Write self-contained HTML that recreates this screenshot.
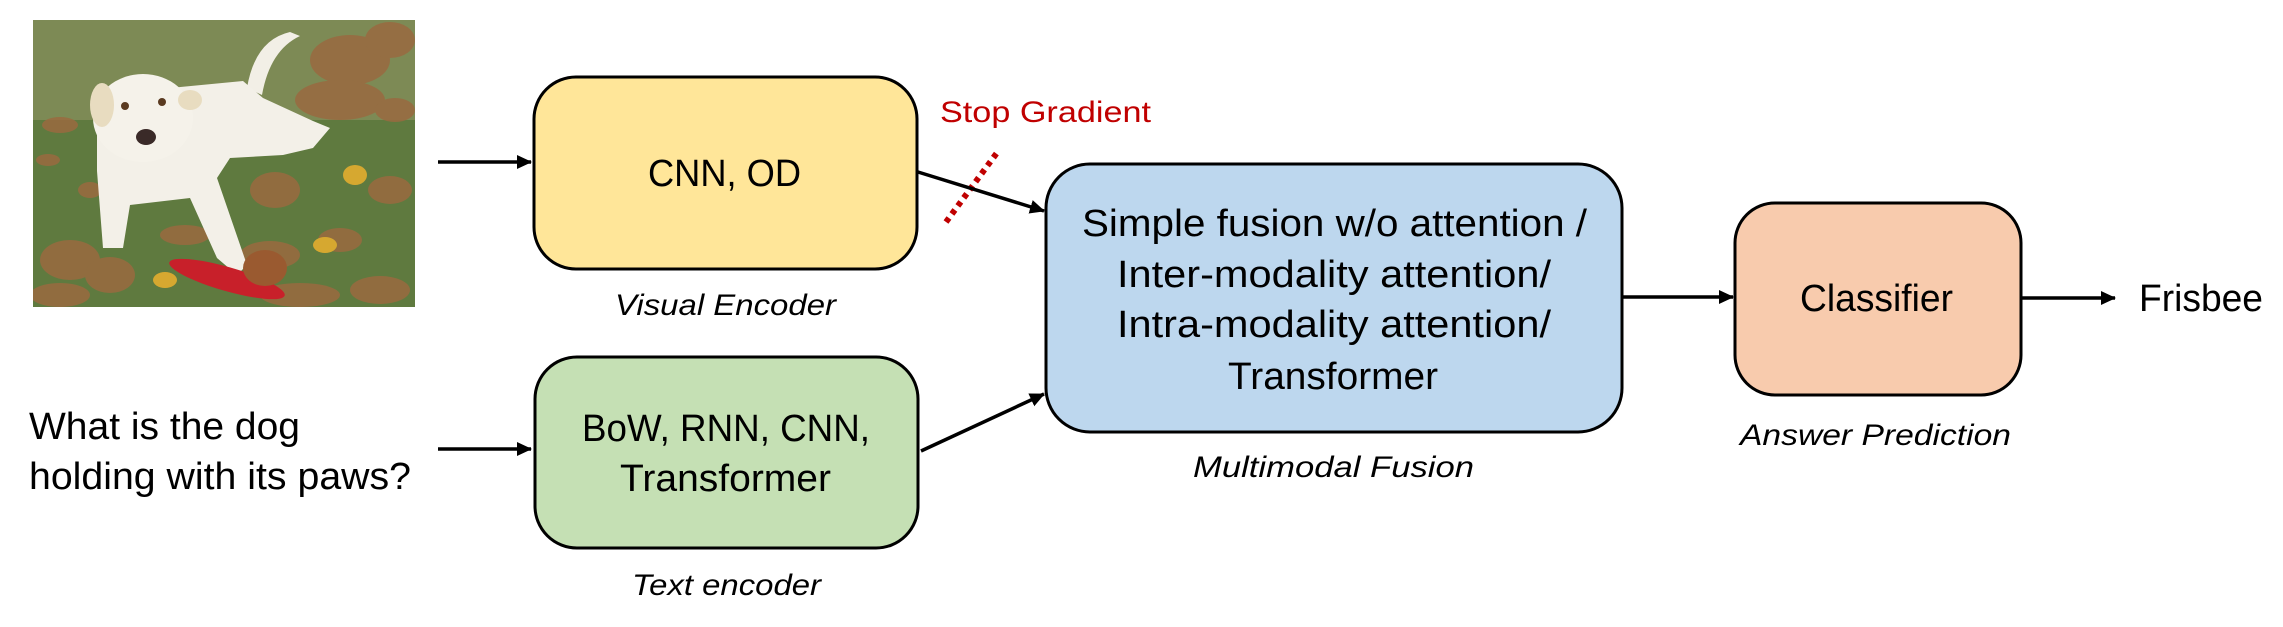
<!DOCTYPE html>
<html><head><meta charset="utf-8"><style>
html,body{margin:0;padding:0;background:#fff}
svg{display:block}
text{font-family:"Liberation Sans",sans-serif;fill:#000}
.it{font-style:italic}
</style></head><body>
<svg width="2283" height="627" viewBox="0 0 2283 627" xmlns="http://www.w3.org/2000/svg">
<defs>
<marker id="ah2" markerWidth="16" markerHeight="16" refX="14" refY="8" orient="auto" markerUnits="userSpaceOnUse">
<path d="M0,1 L15,8 L0,15 z" fill="#000"/>
</marker>
<clipPath id="pc"><rect x="33" y="20" width="382" height="287"/></clipPath>
</defs>

<g clip-path="url(#pc)">
<rect x="33" y="20" width="382" height="287" fill="#5f7a3f"/>
<rect x="33" y="20" width="382" height="100" fill="#7d8a55"/>
<g fill="#9a6a40" opacity="0.85">
<ellipse cx="60" cy="125" rx="18" ry="8"/><ellipse cx="48" cy="160" rx="12" ry="6"/>
<ellipse cx="350" cy="60" rx="40" ry="25"/><ellipse cx="390" cy="40" rx="25" ry="18"/>
<ellipse cx="340" cy="100" rx="45" ry="20"/><ellipse cx="395" cy="110" rx="20" ry="12"/>
<ellipse cx="275" cy="190" rx="25" ry="18"/><ellipse cx="390" cy="190" rx="22" ry="14"/>
<ellipse cx="70" cy="260" rx="30" ry="20"/><ellipse cx="110" cy="275" rx="25" ry="18"/>
<ellipse cx="185" cy="235" rx="25" ry="10"/><ellipse cx="270" cy="255" rx="30" ry="14"/>
<ellipse cx="340" cy="240" rx="22" ry="12"/><ellipse cx="60" cy="295" rx="30" ry="12"/>
<ellipse cx="300" cy="295" rx="40" ry="12"/><ellipse cx="380" cy="290" rx="30" ry="14"/>
<ellipse cx="90" cy="190" rx="12" ry="8"/>
</g>
<g fill="#d6a830"><ellipse cx="355" cy="175" rx="12" ry="10"/><ellipse cx="325" cy="245" rx="12" ry="8"/><ellipse cx="165" cy="280" rx="12" ry="8"/></g>
<path d="M247,88 Q255,40 290,32 L300,36 Q270,50 262,95 z" fill="#f2efe6"/>
<path d="M170,88 L243,81 L263,98 L313,121 L330,128 L313,148 L283,155 L230,158 L217,178 L247,265 L237,275 L217,258 L190,198 L130,205 L123,248 L103,248 L97,171 L97,135 z" fill="#f3f0e8"/>
<ellipse cx="143" cy="118" rx="50" ry="44" fill="#f5f2ea"/>
<ellipse cx="102" cy="105" rx="12" ry="22" fill="#e8dcc0"/>
<ellipse cx="190" cy="100" rx="12" ry="10" fill="#e8dcc0"/>
<circle cx="125" cy="106" r="4" fill="#5a3a20"/><circle cx="162" cy="102" r="4" fill="#5a3a20"/>
<ellipse cx="146" cy="137" rx="10" ry="8" fill="#3a2a28"/>
<ellipse cx="227" cy="279" rx="60" ry="12" transform="rotate(16 227 279)" fill="#c8202a"/>
<ellipse cx="265" cy="268" rx="22" ry="18" fill="#9a5a30"/>
</g>

<line x1="438" y1="162" x2="531" y2="162" stroke="#000" stroke-width="3.5" marker-end="url(#ah2)"/>
<line x1="438" y1="449" x2="531" y2="449" stroke="#000" stroke-width="3.5" marker-end="url(#ah2)"/>

<text x="29" y="439" font-size="38" textLength="271" lengthAdjust="spacingAndGlyphs">What is the dog</text>
<text x="29" y="489" font-size="38" textLength="382" lengthAdjust="spacingAndGlyphs">holding with its paws?</text>

<rect x="534" y="77" width="383" height="192" rx="42" fill="#FFE699" stroke="#000" stroke-width="3"/>
<text x="648" y="186" font-size="38" textLength="153" lengthAdjust="spacingAndGlyphs">CNN, OD</text>
<text class="it" x="615" y="315" font-size="30" textLength="221" lengthAdjust="spacingAndGlyphs">Visual Encoder</text>

<rect x="535" y="357" width="383" height="191" rx="42" fill="#C5E0B4" stroke="#000" stroke-width="3"/>
<text x="582" y="441" font-size="38" textLength="288" lengthAdjust="spacingAndGlyphs">BoW, RNN, CNN,</text>
<text x="620" y="491" font-size="38" textLength="211" lengthAdjust="spacingAndGlyphs">Transformer</text>
<text class="it" x="632" y="595" font-size="30" textLength="189" lengthAdjust="spacingAndGlyphs">Text encoder</text>

<text x="940" y="122" font-size="30" style="fill:#C00000" textLength="211" lengthAdjust="spacingAndGlyphs">Stop Gradient</text>
<line x1="946" y1="222" x2="999" y2="150" stroke="#C00000" stroke-width="6" stroke-dasharray="5,5"/>

<line x1="918" y1="172" x2="1044" y2="211" stroke="#000" stroke-width="3.5" marker-end="url(#ah2)"/>
<line x1="921" y1="451" x2="1044" y2="394" stroke="#000" stroke-width="3.5" marker-end="url(#ah2)"/>

<rect x="1046" y="164" width="576" height="268" rx="44" fill="#BDD7EE" stroke="#000" stroke-width="3"/>
<text x="1082" y="236" font-size="38" textLength="505" lengthAdjust="spacingAndGlyphs">Simple fusion w/o attention /</text>
<text x="1117" y="287" font-size="38" textLength="434" lengthAdjust="spacingAndGlyphs">Inter-modality attention/</text>
<text x="1117" y="337" font-size="38" textLength="434" lengthAdjust="spacingAndGlyphs">Intra-modality attention/</text>
<text x="1228" y="389" font-size="38" textLength="210" lengthAdjust="spacingAndGlyphs">Transformer</text>
<text class="it" x="1193" y="477" font-size="30" textLength="281" lengthAdjust="spacingAndGlyphs">Multimodal Fusion</text>

<line x1="1622" y1="297" x2="1733" y2="297" stroke="#000" stroke-width="3.5" marker-end="url(#ah2)"/>
<rect x="1735" y="203" width="286" height="192" rx="40" fill="#F8CBAD" stroke="#000" stroke-width="3"/>
<text x="1800" y="311" font-size="38" textLength="153" lengthAdjust="spacingAndGlyphs">Classifier</text>
<text class="it" x="1740" y="445" font-size="30" textLength="271" lengthAdjust="spacingAndGlyphs">Answer Prediction</text>

<line x1="2021" y1="298" x2="2115" y2="298" stroke="#000" stroke-width="3.5" marker-end="url(#ah2)"/>
<text x="2139" y="311" font-size="38" textLength="124" lengthAdjust="spacingAndGlyphs">Frisbee</text>
</svg>
</body></html>
